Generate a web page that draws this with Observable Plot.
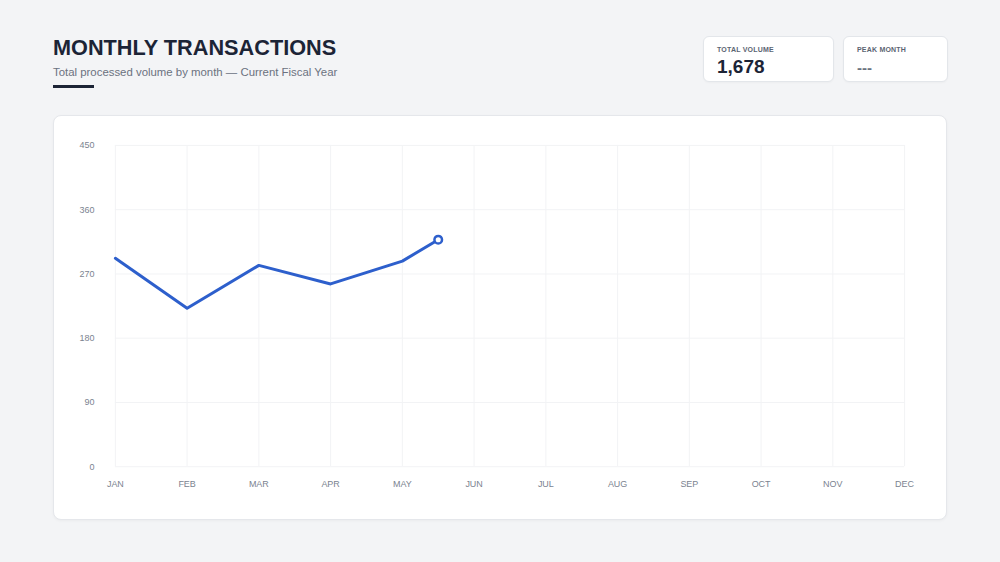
<!DOCTYPE html>
<html>
<head>
<meta charset="utf-8">
<script src="https://cdn.jsdelivr.net/npm/d3@7"></script>
<script src="https://cdn.jsdelivr.net/npm/@observablehq/plot@0.6"></script>
<style>
  html, body { margin: 0; padding: 0; }
  body { width: 1000px; height: 562px; background: #f3f4f6; font-family: "Liberation Sans", Arial, sans-serif; position: relative; overflow: hidden; }
  .title { position: absolute; left: 53px; top: 35px; font-size: 21.7px; font-weight: 700; color: #1c2436; }
  .subtitle { position: absolute; left: 53px; top: 66px; font-size: 11.4px; color: #6b7280; }
  .accent { position: absolute; left: 53px; top: 85px; width: 41px; height: 3px; background: #1c2436; }
  .kpi { position: absolute; top: 36px; height: 46px; background: #fff; border: 1px solid #e3e6ea; border-radius: 6px; box-sizing: border-box; box-shadow: 0 1px 2px rgba(0,0,0,0.03); }
  .kpi .lab { position: absolute; left: 13px; top: 9px; font-size: 7px; font-weight: 700; color: #5b6472; letter-spacing: 0.2px; }
  .kpi .val { position: absolute; left: 13px; top: 19px; font-size: 19px; font-weight: 700; color: #1c2436; }
  .kpi .val.dash { color: #6b7280; font-size: 15px; top: 22px; }
  .card { position: absolute; left: 53px; top: 115px; width: 894px; height: 405px; background: #fff; border: 1px solid #e5e7eb; border-radius: 8px; box-sizing: border-box; box-shadow: 0 1px 3px rgba(0,0,0,0.04); }
  .card svg { position: absolute; left: -1px; top: -1px; }
</style>
</head>
<body>
<div class="title">MONTHLY TRANSACTIONS</div>
<div class="subtitle">Total processed volume by month — Current Fiscal Year</div>
<div class="accent"></div>
<div class="kpi" style="left:703px;width:131px;"><div class="lab">TOTAL VOLUME</div><div class="val">1,678</div></div>
<div class="kpi" style="left:843px;width:105px;"><div class="lab">PEAK MONTH</div><div class="val dash">---</div></div>
<div class="card" id="chart"></div>
<script>
const months = ["JAN","FEB","MAR","APR","MAY","JUN","JUL","AUG","SEP","OCT","NOV","DEC"];
const monthIndex = [0, 1, 2, 3, 4, 4.5];
const volumes = [292, 222, 282, 256, 288, 318];
const yTicks = [0, 90, 180, 270, 360, 450];

const data = monthIndex.map((m, i) => ({m, v: volumes[i]}));
const last = data[data.length - 1];
const monthTicks = months.map((_, i) => i);

const chart = Plot.plot({
  width: 894,
  height: 405,
  marginLeft: 62,
  marginRight: 41,
  marginTop: 30,
  marginBottom: 53,
  style: { fontFamily: "Liberation Sans, Arial, sans-serif", fontSize: "9px", color: "#7b8390", background: "transparent" },
  x: { type: "linear", domain: [0, 11], label: null },
  y: { domain: [0, 450], label: null },
  marks: [
    Plot.gridX(monthTicks, { stroke: "#f2f3f5", strokeOpacity: 1 }),
    Plot.gridY(yTicks, { stroke: "#f2f3f5", strokeOpacity: 1 }),
    Plot.axisX({ ticks: monthTicks, tickFormat: i => months[i], tickSize: 0, tickPadding: 14, label: null, fill: "#7b8390" }),
    Plot.axisY({ ticks: yTicks, tickSize: 0, tickPadding: 21, label: null, fill: "#7b8390" }),
    Plot.line(data, { x: "m", y: "v", stroke: "#2d5fcc", strokeWidth: 3, strokeLinejoin: "round", strokeLinecap: "round" }),
    Plot.dot([last], { x: "m", y: "v", r: 3.8, fill: "#fff", stroke: "#2d5fcc", strokeWidth: 2.5 })
  ]
});
document.getElementById("chart").appendChild(chart);
</script>
</body>
</html>
